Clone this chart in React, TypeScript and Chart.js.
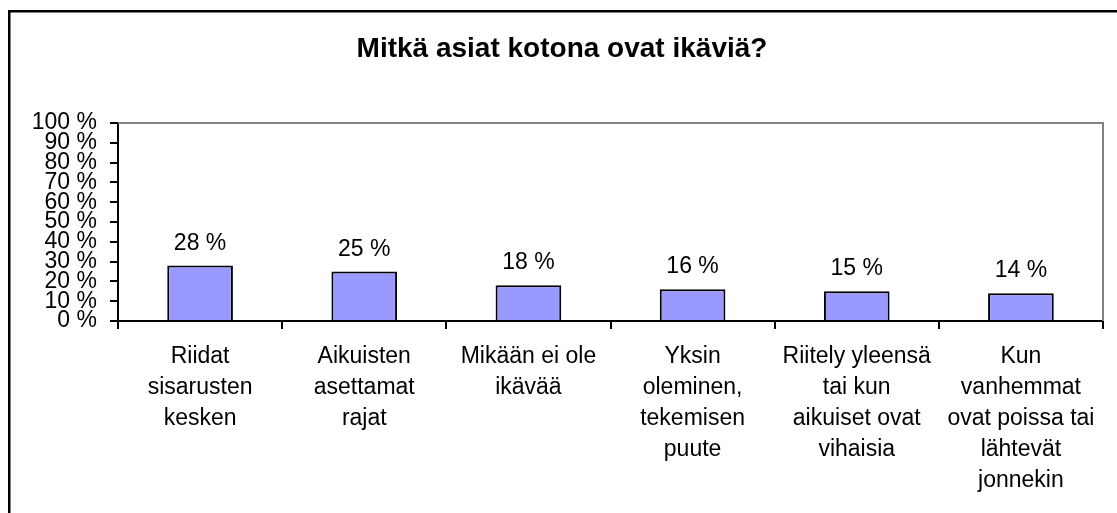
import React, { useEffect, useRef } from "react";
import { Chart, registerables } from "chart.js";

Chart.register(...registerables);

const TITLE = "Mitkä asiat kotona ovat ikäviä?";
const CATEGORIES: string[][] = [
  ["Riidat", "sisarusten", "kesken"],
  ["Aikuisten", "asettamat", "rajat"],
  ["Mikään ei ole", "ikävää"],
  ["Yksin", "oleminen,", "tekemisen", "puute"],
  ["Riitely yleensä", "tai kun", "aikuiset ovat", "vihaisia"],
  ["Kun", "vanhemmat", "ovat poissa tai", "lähtevät", "jonnekin"],
];
const VALUES: number[] = [28, 25, 18, 16, 15, 14];
const Y_MIN = 0;
const Y_MAX = 100;
const Y_STEP = 10;

const FONT = "'Liberation Sans', Arial, sans-serif";
const TEXT_SIZE = 23;

const framePlugin = {
  id: "frame",
  beforeDraw(chart: any) {
    const ctx = chart.ctx;
    ctx.save();
    ctx.fillStyle = "#ffffff";
    ctx.fillRect(0, 0, chart.width, chart.height);
    ctx.strokeStyle = "#000000";
    ctx.lineWidth = 2.5;
    ctx.strokeRect(9.25, 11.25, chart.width + 20, chart.height + 20);
    ctx.font = `bold 28px ${FONT}`;
    ctx.fillStyle = "#000000";
    ctx.textAlign = "center";
    ctx.textBaseline = "middle";
    ctx.fillText(TITLE, 562, 49);
    ctx.restore();
  },
  beforeDatasetsDraw(chart: any) {
    const { ctx, chartArea } = chart;
    ctx.save();
    ctx.strokeStyle = "#808080";
    ctx.lineWidth = 2;
    ctx.beginPath();
    ctx.moveTo(chartArea.left, chartArea.top);
    ctx.lineTo(chartArea.right, chartArea.top);
    ctx.lineTo(chartArea.right, chartArea.bottom);
    ctx.stroke();
    ctx.restore();
  },
  afterDatasetsDraw(chart: any) {
    const ctx = chart.ctx;
    const meta = chart.getDatasetMeta(0);
    ctx.save();
    ctx.font = `${TEXT_SIZE}px ${FONT}`;
    ctx.fillStyle = "#000000";
    ctx.textAlign = "center";
    ctx.textBaseline = "alphabetic";
    meta.data.forEach((bar: any, i: number) => {
      ctx.fillText(`${VALUES[i]} %`, bar.x, bar.y - 16);
    });
    ctx.restore();
  },
};

export default function App() {
  const canvasRef = useRef<HTMLCanvasElement | null>(null);

  useEffect(() => {
    if (!canvasRef.current) return;
    const chart = new Chart(canvasRef.current, {
      type: "bar",
      data: {
        labels: CATEGORIES,
        datasets: [
          {
            data: VALUES,
            backgroundColor: "#9999FF",
            borderColor: "#000000",
            borderWidth: 2,
            barPercentage: 0.4,
            categoryPercentage: 1.0,
          },
        ],
      },
      options: {
        responsive: true,
        maintainAspectRatio: false,
        animation: false,
        layout: { padding: { top: 123, right: 14, bottom: 0, left: 0 } },
        plugins: {
          legend: { display: false },
          title: { display: false },
          tooltip: { enabled: false },
        },
        scales: {
          x: {
            grid: {
              drawOnChartArea: false,
              drawTicks: true,
              tickLength: 8,
              color: "#000000",
              lineWidth: 2,
              offset: true,
            },
            border: { color: "#000000", width: 2 },
            ticks: {
              color: "#000000",
              font: { family: FONT, size: TEXT_SIZE, lineHeight: 1.35 },
              maxRotation: 0,
              minRotation: 0,
              autoSkip: false,
              padding: 12,
            },
            afterFit(scale: any) {
              scale.height = 192;
            },
          },
          y: {
            min: Y_MIN,
            max: Y_MAX,
            grid: {
              drawOnChartArea: false,
              drawTicks: true,
              tickLength: 8,
              color: "#000000",
              lineWidth: 2,
            },
            border: { color: "#000000", width: 2 },
            ticks: {
              stepSize: Y_STEP,
              autoSkip: false,
              color: "#000000",
              font: { family: FONT, size: TEXT_SIZE, lineHeight: 1.0 },
              padding: 13,
              callback: (v: any) => `${v} %`,
            },
            afterFit(scale: any) {
              scale.width = 118;
            },
          },
        },
      },
      plugins: [framePlugin],
    });
    return () => chart.destroy();
  }, []);

  return (
    <div style={{ position: "absolute", left: 0, top: 0, width: 1117, height: 513 }}>
      <canvas ref={canvasRef} />
    </div>
  );
}
